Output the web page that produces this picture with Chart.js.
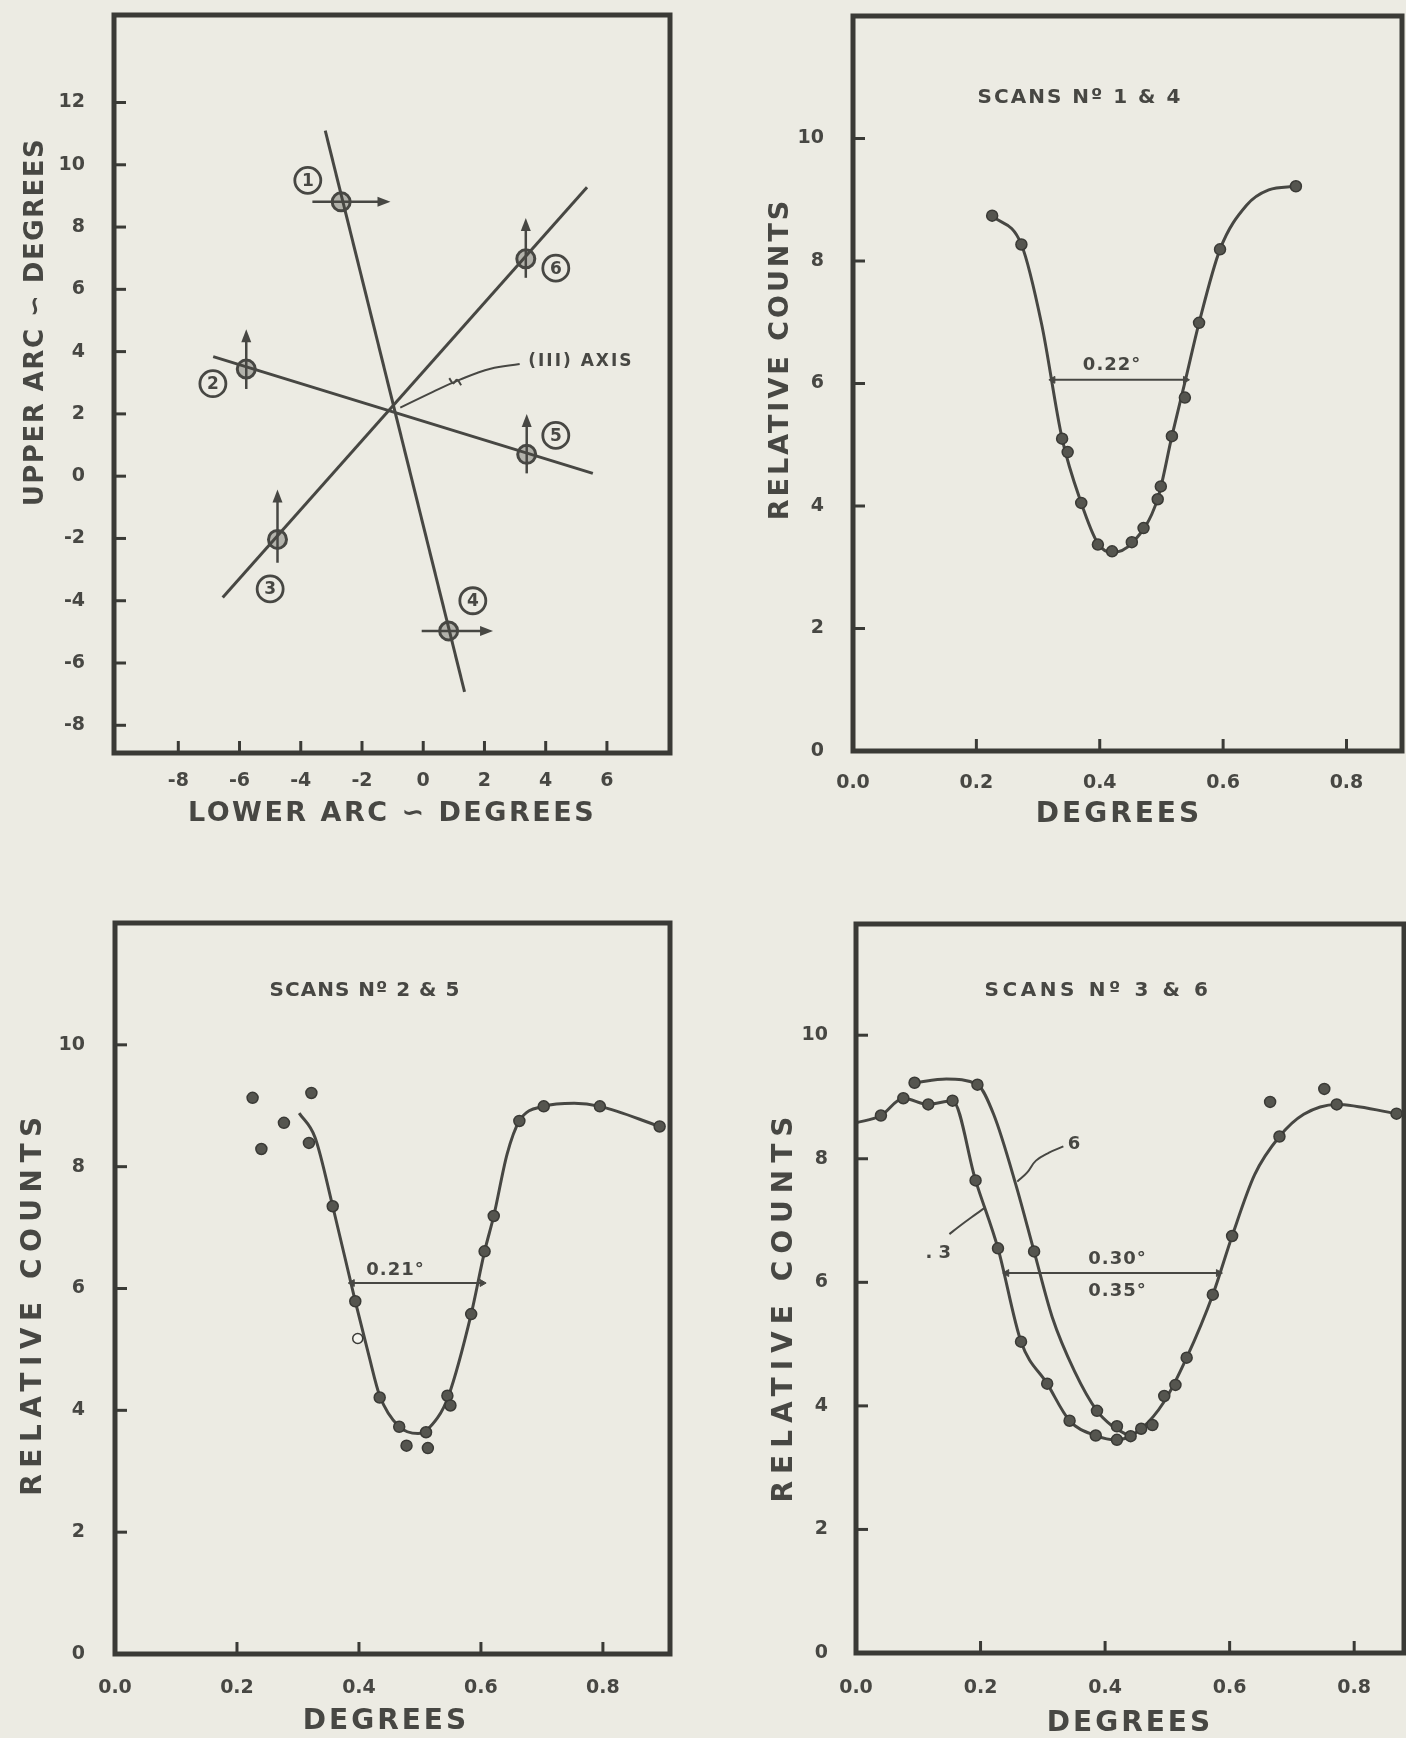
<!DOCTYPE html>
<html><head><meta charset="utf-8">
<script src="https://cdn.jsdelivr.net/npm/chart.js@4.4.1/dist/chart.umd.min.js"></script>
<style>
html,body{margin:0;padding:0;background:#ecebe3;width:1406px;height:1738px;overflow:hidden;position:relative}
canvas{position:absolute}
</style></head><body>
<canvas id="c1"></canvas><canvas id="c2"></canvas><canvas id="c3"></canvas><canvas id="c4"></canvas>
<script>
// ================= DATA =================
// --- Panel 1: upper arc vs lower arc (degrees) ---
const arcTicksX = [-8, -6, -4, -2, 0, 2, 4, 6];
const arcLabelsX = ['-8', '-6', '-4', '-2', '0', '2', '4', '6'];
const arcTicksY = [-8, -6, -4, -2, 0, 2, 4, 6, 8, 10, 12];
const arcLabelsY = ['-8', '-6', '-4', '-2', '0', '2', '4', '6', '8', '10', '12'];
const arcLineAX = [-3.2, 1.35];   const arcLineAY = [11.1, -6.93];
const arcLineBX = [-6.55, 5.35];  const arcLineBY = [-3.9, 9.28];
const arcLineCX = [-6.86, 5.54];  const arcLineCY = [3.84, 0.09];
const scanIds = ['1', '2', '3', '4', '5', '6'];
const scanLower = [-2.68, -5.78, -4.76, 0.83, 3.38, 3.35];
const scanUpper = [8.81, 3.44, -2.03, -4.97, 0.70, 6.98];
const scanLabelLower = [-3.77, -6.87, -5.0, 1.62, 4.33, 4.33];
const scanLabelUpper = [9.5, 2.97, -3.62, -4.0, 1.31, 6.68];
const scanArrowFromX = [-3.62, -5.78, -4.76, -0.05, 3.38, 3.35];
const scanArrowFromY = [8.81, 2.8, -2.78, -4.97, 0.09, 6.37];
const scanArrowToX = [-1.07, -5.78, -4.76, 2.28, 3.38, 3.35];
const scanArrowToY = [8.81, 4.72, -0.43, -4.97, 2.0, 8.29];
const axisLeaderX = [3.15, 2.2, 1.2, 0.3, -0.75];
const axisLeaderY = [3.6, 3.45, 3.1, 2.7, 2.2];
const axisWiggleX = [0.85, 0.98, 1.1, 1.24];
const axisWiggleY = [3.15, 2.98, 3.1, 2.92];

// --- common tick labels for scan panels ---
const degTicks = [0, 0.2, 0.4, 0.6, 0.8];
const degLabels = ['0.0', '0.2', '0.4', '0.6', '0.8'];
const countTicks = [0, 2, 4, 6, 8, 10];
const countLabels = ['0', '2', '4', '6', '8', '10'];

// --- Panel 2: scans 1 & 4 ---
const scan14X = [0.2256, 0.273, 0.339, 0.348, 0.370, 0.397, 0.420, 0.452, 0.471, 0.494, 0.499, 0.517, 0.538, 0.561, 0.595, 0.718];
const scan14Y = [8.74, 8.27, 5.10, 4.88, 4.05, 3.37, 3.26, 3.41, 3.64, 4.11, 4.32, 5.14, 5.77, 6.99, 8.19, 9.22];
const fit14X = [0.2256, 0.273, 0.306, 0.339, 0.370, 0.397, 0.420, 0.452, 0.494, 0.517, 0.539, 0.561, 0.595, 0.638, 0.674, 0.718];
const fit14Y = [8.74, 8.27, 6.96, 5.10, 4.05, 3.39, 3.24, 3.39, 4.12, 5.14, 6.06, 6.99, 8.19, 8.91, 9.16, 9.22];
const width14X = [0.324, 0.539];
const width14Y = [6.06, 6.06];

// --- Panel 3: scans 2 & 5 ---
const scan25X = [0.2256, 0.240, 0.277, 0.322, 0.318, 0.357, 0.394, 0.434, 0.466, 0.478, 0.510, 0.513, 0.545, 0.550, 0.584, 0.606, 0.621, 0.663, 0.703, 0.795, 0.893];
const scan25Y = [9.13, 8.29, 8.72, 9.21, 8.39, 7.35, 5.79, 4.21, 3.73, 3.42, 3.64, 3.38, 4.24, 4.08, 5.58, 6.61, 7.19, 8.75, 8.99, 8.99, 8.66];
const open25X = [0.398];
const open25Y = [5.18];
const fit25X = [0.302, 0.328, 0.357, 0.394, 0.416, 0.434, 0.466, 0.497, 0.529, 0.547, 0.584, 0.606, 0.621, 0.643, 0.663, 0.703, 0.753, 0.795, 0.893];
const fit25Y = [8.88, 8.48, 7.35, 5.79, 4.91, 4.24, 3.73, 3.62, 3.88, 4.24, 5.58, 6.61, 7.19, 8.21, 8.75, 8.99, 9.04, 8.99, 8.66];
const width25X = [0.389, 0.602];
const width25Y = [6.09, 6.09];

// --- Panel 4: scans 3 & 6 ---
const scan3X = [0.040, 0.076, 0.116, 0.155, 0.192, 0.228, 0.265, 0.307, 0.343, 0.385, 0.419, 0.441, 0.458, 0.476, 0.495, 0.513, 0.531, 0.573, 0.604, 0.665, 0.680, 0.752, 0.772, 0.868];
const scan3Y = [8.70, 8.98, 8.88, 8.94, 7.65, 6.55, 5.04, 4.36, 3.76, 3.52, 3.45, 3.51, 3.63, 3.69, 4.16, 4.34, 4.78, 5.80, 6.75, 8.92, 8.36, 9.13, 8.88, 8.73];
const scan6X = [0.094, 0.195, 0.286, 0.387, 0.419];
const scan6Y = [9.23, 9.20, 6.50, 3.92, 3.67];
const fit3X = [0.0, 0.040, 0.076, 0.116, 0.155, 0.192, 0.228, 0.265, 0.307, 0.343, 0.385, 0.419, 0.458, 0.495, 0.531, 0.573, 0.604, 0.640, 0.680, 0.719, 0.772, 0.868];
const fit3Y = [8.58, 8.70, 8.98, 8.88, 8.94, 7.65, 6.55, 5.04, 4.36, 3.76, 3.52, 3.45, 3.63, 4.07, 4.78, 5.80, 6.75, 7.74, 8.36, 8.72, 8.88, 8.73];
const fit6X = [0.094, 0.145, 0.195, 0.221, 0.257, 0.286, 0.315, 0.351, 0.387, 0.412, 0.434];
const fit6Y = [9.23, 9.29, 9.20, 8.72, 7.57, 6.50, 5.44, 4.56, 3.92, 3.67, 3.54];
const width36X = [0.242, 0.582];
const width36Y = [6.15, 6.15];
const leader6X = [0.259, 0.275, 0.289, 0.31, 0.333];
const leader6Y = [7.63, 7.78, 7.97, 8.1, 8.2];
const leader3X = [0.206, 0.185, 0.165, 0.15];
const leader3Y = [7.2, 7.05, 6.9, 6.78];

// ================= STYLE / LAYOUT =================
const INK = '#474743';
const FRAME = '#3a3a36';
const FONT = '"DejaVu Sans", "Liberation Sans", sans-serif';
const PADW = 150, PADT = 60, PADR = 30, PADB = 120;
const geoms = {
  c1: {L: 114, T: 15, R: 670, B: 753},
  c2: {L: 853, T: 16, R: 1402, B: 751},
  c3: {L: 115, T: 923, R: 670, B: 1654},
  c4: {L: 856, T: 924, R: 1404, B: 1653}
};

const pts = (xs, ys) => xs.map((x, i) => ({x, y: ys[i]}));

function setSpacing(ctx, ls) { if ('letterSpacing' in ctx) ctx.letterSpacing = (ls || 0) + 'px'; }

const figPlugin = {
  id: 'fig',
  afterDatasetsDraw(chart, args, o) {
    const {ctx, chartArea: a, scales: {x, y}} = chart;
    const g = o.geom;
    ctx.save();
    // frame
    ctx.strokeStyle = FRAME; ctx.lineWidth = 5;
    ctx.strokeRect(a.left, a.top, a.right - a.left, a.bottom - a.top);
    // inward tick marks
    ctx.lineWidth = 3; ctx.strokeStyle = FRAME;
    x.ticks.forEach(t => { const p = x.getPixelForValue(t.value); ctx.beginPath(); ctx.moveTo(p, a.bottom); ctx.lineTo(p, a.bottom - 12); ctx.stroke(); });
    y.ticks.forEach(t => { const p = y.getPixelForValue(t.value); ctx.beginPath(); ctx.moveTo(a.left, p); ctx.lineTo(a.left + 12, p); ctx.stroke(); });
    // arrows
    ctx.fillStyle = INK; ctx.strokeStyle = INK; ctx.lineWidth = 2.5;
    (o.arrows || []).forEach(ar => {
      const x0 = x.getPixelForValue(ar.x0), y0 = y.getPixelForValue(ar.y0);
      const x1 = x.getPixelForValue(ar.x1), y1 = y.getPixelForValue(ar.y1);
      const ang = Math.atan2(y1 - y0, x1 - x0), hl = 13, hw = 5;
      ctx.beginPath(); ctx.moveTo(x0, y0); ctx.lineTo(x1 - Math.cos(ang) * hl * 0.7, y1 - Math.sin(ang) * hl * 0.7); ctx.stroke();
      ctx.beginPath(); ctx.moveTo(x1, y1);
      ctx.lineTo(x1 - Math.cos(ang) * hl - Math.sin(ang) * hw, y1 - Math.sin(ang) * hl + Math.cos(ang) * hw);
      ctx.lineTo(x1 - Math.cos(ang) * hl + Math.sin(ang) * hw, y1 - Math.sin(ang) * hl - Math.cos(ang) * hw);
      ctx.closePath(); ctx.fill();
    });
    // circled labels
    (o.circled || []).forEach(c => {
      const px = x.getPixelForValue(c.x), py = y.getPixelForValue(c.y);
      ctx.lineWidth = 2.8; ctx.strokeStyle = INK;
      ctx.beginPath(); ctx.arc(px, py, 13, 0, Math.PI * 2); ctx.stroke();
      ctx.font = 'bold 17px ' + FONT; ctx.textAlign = 'center'; ctx.textBaseline = 'middle';
      setSpacing(ctx, 0);
      ctx.fillText(c.t, px, py + 1);
    });
    // notes in data coordinates
    ctx.textAlign = 'center'; ctx.textBaseline = 'middle'; ctx.fillStyle = INK;
    (o.notes || []).forEach(n => {
      ctx.font = 'bold ' + n.size + 'px ' + FONT; setSpacing(ctx, n.ls);
      ctx.fillText(n.t, x.getPixelForValue(n.x), y.getPixelForValue(n.y));
    });
    // titles in page coordinates
    (o.texts || []).forEach(n => {
      const px = a.left + n.x - g.L, py = a.top + n.y - g.T;
      ctx.font = 'bold ' + n.size + 'px ' + FONT; setSpacing(ctx, n.ls);
      ctx.save(); ctx.translate(px, py); if (n.rot) ctx.rotate(-Math.PI / 2);
      ctx.fillText(n.t, 0, 0); ctx.restore();
    });
    ctx.restore();
  }
};

function axis(s, kind) {
  return {
    type: 'linear', min: s.min, max: s.max,
    afterBuildTicks: sc => { sc.ticks = s.ticks.map(v => ({value: v})); },
    afterFit: sc => { if (kind === 'x') sc.height = PADB; else sc.width = PADW; },
    grid: {display: false}, border: {display: false},
    ticks: {
      autoSkip: false, maxRotation: 0, minRotation: 0, padding: s.pad, color: INK,
      font: {family: FONT, size: 19, weight: 'bold'},
      callback: (v, i) => s.labels[i]
    }
  };
}

const lineDs = (d, w, extra) => Object.assign({data: d, showLine: true, borderColor: INK, borderWidth: w, pointRadius: 0, fill: false}, extra || {});
const dotDs = (d, extra) => Object.assign({data: d, showLine: false, pointRadius: 5.5, backgroundColor: '#55554f', borderColor: '#3a3a36', pointBackgroundColor: '#55554f', pointBorderColor: '#3a3a36', pointBorderWidth: 1.5}, extra || {});
const widthDs = d => ({data: d, showLine: true, borderColor: INK, borderWidth: 2, pointStyle: 'triangle', pointRadius: 4, pointRotation: [270, 90], pointBackgroundColor: INK, pointBorderColor: INK, pointBorderWidth: 1});

function build(id, datasets, xs, ys, fig) {
  const g = geoms[id];
  const cv = document.getElementById(id);
  const w = g.R - g.L + PADW + PADR, h = g.B - g.T + PADT + PADB;
  cv.width = w; cv.height = h;
  cv.style.left = (g.L - PADW) + 'px'; cv.style.top = (g.T - PADT) + 'px';
  cv.style.width = w + 'px'; cv.style.height = h + 'px';
  fig.geom = g;
  return new Chart(cv, {
    type: 'scatter',
    data: {datasets},
    options: {
      responsive: false, animation: false, devicePixelRatio: 1, events: [],
      layout: {padding: {left: 0, top: PADT, right: PADR, bottom: 0}},
      plugins: {legend: {display: false}, tooltip: {enabled: false}, fig},
      scales: {x: axis(xs, 'x'), y: axis(ys, 'y')}
    },
    plugins: [figPlugin]
  });
}

// ---------- Panel 1 ----------
build('c1', [
  dotDs(pts(scanLower, scanUpper), {pointRadius: 9, pointBorderWidth: 3, pointBackgroundColor: 'rgba(71,71,67,0.35)', pointBorderColor: INK}),
  lineDs(pts(arcLineAX, arcLineAY), 3),
  lineDs(pts(arcLineBX, arcLineBY), 3),
  lineDs(pts(arcLineCX, arcLineCY), 3),
  lineDs(pts(axisLeaderX, axisLeaderY), 2, {tension: 0.4}),
  lineDs(pts(axisWiggleX, axisWiggleY), 2, {tension: 0.4})
],
{min: -10.1, max: 8.06, ticks: arcTicksX, labels: arcLabelsX, pad: 9},
{min: -8.89, max: 14.81, ticks: arcTicksY, labels: arcLabelsY, pad: 21},
{
  arrows: scanIds.map((s, i) => ({x0: scanArrowFromX[i], y0: scanArrowFromY[i], x1: scanArrowToX[i], y1: scanArrowToY[i]})),
  circled: scanIds.map((s, i) => ({t: s, x: scanLabelLower[i], y: scanLabelUpper[i]})),
  notes: [{t: '(III) AXIS', x: 5.15, y: 3.68, size: 17, ls: 2}],
  texts: [
    {t: 'UPPER ARC ∽ DEGREES', x: 36, y: 322, size: 26, ls: 1.5, rot: true},
    {t: 'LOWER ARC ∽ DEGREES', x: 392, y: 814, size: 27, ls: 2.5}
  ]
});

// ---------- Panel 2 ----------
build('c2', [
  dotDs(pts(scan14X, scan14Y)),
  widthDs(pts(width14X, width14Y)),
  lineDs(pts(fit14X, fit14Y), 3, {cubicInterpolationMode: 'monotone'})
],
{min: 0, max: 0.89, ticks: degTicks, labels: degLabels, pad: 13},
{min: 0, max: 12, ticks: countTicks, labels: countLabels, pad: 21},
{
  notes: [{t: '0.22°', x: 0.42, y: 6.3, size: 18, ls: 1}],
  texts: [
    {t: 'RELATIVE COUNTS', x: 781, y: 359, size: 27, ls: 3, rot: true},
    {t: 'DEGREES', x: 1119, y: 815, size: 28, ls: 3},
    {t: 'SCANS Nº 1 & 4', x: 1080, y: 98, size: 20, ls: 2}
  ]
});

// ---------- Panel 3 ----------
build('c3', [
  dotDs(pts(scan25X, scan25Y)),
  dotDs(pts(open25X, open25Y), {pointRadius: 5, pointBackgroundColor: '#f4f4ee', backgroundColor: '#f4f4ee'}),
  widthDs(pts(width25X, width25Y)),
  lineDs(pts(fit25X, fit25Y), 3, {cubicInterpolationMode: 'monotone'})
],
{min: 0, max: 0.91, ticks: degTicks, labels: degLabels, pad: 15},
{min: 0, max: 12, ticks: countTicks, labels: countLabels, pad: 22},
{
  notes: [{t: '0.21°', x: 0.46, y: 6.3, size: 18, ls: 1}],
  texts: [
    {t: 'RELATIVE COUNTS', x: 34, y: 1303, size: 28, ls: 6.5, rot: true},
    {t: 'DEGREES', x: 386, y: 1722, size: 28, ls: 3},
    {t: 'SCANS Nº 2 & 5', x: 365, y: 991, size: 20, ls: 1}
  ]
});

// ---------- Panel 4 ----------
build('c4', [
  dotDs(pts(scan3X, scan3Y)),
  dotDs(pts(scan6X, scan6Y)),
  widthDs(pts(width36X, width36Y)),
  lineDs(pts(fit3X, fit3Y), 3, {cubicInterpolationMode: 'monotone'}),
  lineDs(pts(fit6X, fit6Y), 3, {cubicInterpolationMode: 'monotone'}),
  lineDs(pts(leader6X, leader6Y), 2, {tension: 0.4}),
  lineDs(pts(leader3X, leader3Y), 2, {tension: 0.4})
],
{min: 0, max: 0.88, ticks: degTicks, labels: degLabels, pad: 16},
{min: 0, max: 11.8, ticks: countTicks, labels: countLabels, pad: 20},
{
  notes: [
    {t: '0.30°', x: 0.42, y: 6.37, size: 18, ls: 1},
    {t: '0.35°', x: 0.42, y: 5.85, size: 18, ls: 1},
    {t: '6', x: 0.35, y: 8.24, size: 18, ls: 0},
    {t: '. 3', x: 0.132, y: 6.47, size: 18, ls: 0}
  ],
  texts: [
    {t: 'RELATIVE COUNTS', x: 785, y: 1306, size: 28, ls: 7, rot: true},
    {t: 'DEGREES', x: 1130, y: 1724, size: 28, ls: 3},
    {t: 'SCANS Nº 3 & 6', x: 1098, y: 991, size: 20, ls: 3.6}
  ]
});
</script>
</body></html>
